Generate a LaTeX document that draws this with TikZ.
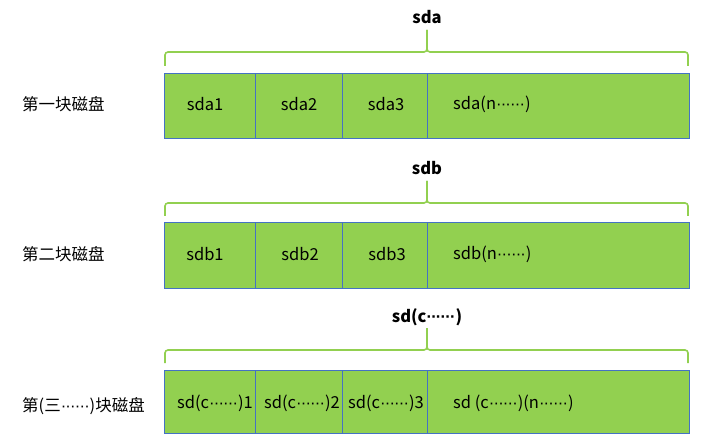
\documentclass[tikz,border=0pt]{standalone}
\usepackage{fontspec}
\setmainfont{Noto Sans CJK SC}
\newfontfamily\dotfont{Liberation Sans}
\newcommand\onedot{·\kern-0.8pt}
\newcommand\mydots{{\dotfont\onedot\onedot\onedot\onedot\onedot·}}
\definecolor{cellgreen}{HTML}{92D050}
\definecolor{cellblue}{HTML}{4472C4}
\definecolor{bracegreen}{HTML}{92D050}
\begin{document}
\begin{tikzpicture}[x=1pt,y=-1pt,
  every node/.style={font=\fontsize{16.5}{19}\selectfont, inner sep=0pt},
  cell/.style={draw=cellblue, line width=0.9pt, fill=cellgreen, minimum height=#1, anchor=north west},
  celltext/.style={anchor=center},
  lefttext/.style={anchor=west},
  toptext/.style={font=\fontsize{16.5}{19}\selectfont\bfseries, anchor=center},
  bracepath/.style={draw=bracegreen, line width=1.6pt, rounded corners=3pt}]
\useasboundingbox (0,0) rectangle (706,443);

% ---------- Row 1 ----------
\node[lefttext] (l1) at (22,104) {第一块磁盘};
\node[cell=65pt, minimum width=91pt] (a1) at (164,73) {};
\node[cell=65pt, minimum width=87pt] (a2) at (255,73) {};
\node[cell=65pt, minimum width=85pt] (a3) at (342,73) {};
\node[cell=65pt, minimum width=262pt] (a4) at (427,73) {};
\node[celltext] (ta1) at (205,104) {sda1};
\node[celltext] (ta2) at (299,104) {sda2};
\node[celltext] (ta3) at (386,104) {sda3};
\node[anchor=west] (ta4) at (453,104) {sda(n\mydots)};
\coordinate (ba) at (427,30);
\coordinate (bal) at (165,66);
\coordinate (bar) at (688,66);
\draw[bracepath] (bal) |- (ba |- 0,52) -- (ba);
\draw[bracepath] (bar) |- (ba |- 0,52) -- (ba);
\node[toptext] (sa) at (427,17) {sda};

% ---------- Row 2 ----------
\node[lefttext] (l2) at (22,254) {第二块磁盘};
\node[cell=66pt, minimum width=91pt] (b1) at (164,222) {};
\node[cell=66pt, minimum width=87pt] (b2) at (255,222) {};
\node[cell=66pt, minimum width=85pt] (b3) at (342,222) {};
\node[cell=66pt, minimum width=262pt] (b4) at (427,222) {};
\node[celltext] (tb1) at (205,254) {sdb1};
\node[celltext] (tb2) at (300,254) {sdb2};
\node[celltext] (tb3) at (387,254) {sdb3};
\node[anchor=west] (tb4) at (453,254) {sdb(n\mydots)};
\coordinate (bb) at (427,181);
\coordinate (bbl) at (165,216);
\coordinate (bbr) at (688,216);
\draw[bracepath] (bbl) |- (bb |- 0,203) -- (bb);
\draw[bracepath] (bbr) |- (bb |- 0,203) -- (bb);
\node[toptext] (sb) at (427,168) {sdb};

% ---------- Row 3 ----------
\node[lefttext] (l3) at (22,406) {第(三\mydots)块磁盘};
\node[cell=63pt, minimum width=91pt] (c1) at (164,370) {};
\node[cell=63pt, minimum width=87pt] (c2) at (255,370) {};
\node[cell=63pt, minimum width=85pt] (c3) at (342,370) {};
\node[cell=63pt, minimum width=262pt] (c4) at (427,370) {};
\node[celltext] (tc1) at (215,403) {sd(c\mydots)1};
\node[celltext] (tc2) at (302,403) {sd(c\mydots)2};
\node[celltext] (tc3) at (386,403) {sd(c\mydots)3};
\node[anchor=west] (tc4) at (453,403) {sd (c\mydots)(n\mydots)};
\coordinate (bc) at (427,328);
\coordinate (bcl) at (165,363);
\coordinate (bcr) at (688,363);
\draw[bracepath] (bcl) |- (bc |- 0,350) -- (bc);
\draw[bracepath] (bcr) |- (bc |- 0,350) -- (bc);
\node[toptext] (sc) at (427,317) {sd(c{\bfseries\mydots})};
\end{tikzpicture}
\end{document}
